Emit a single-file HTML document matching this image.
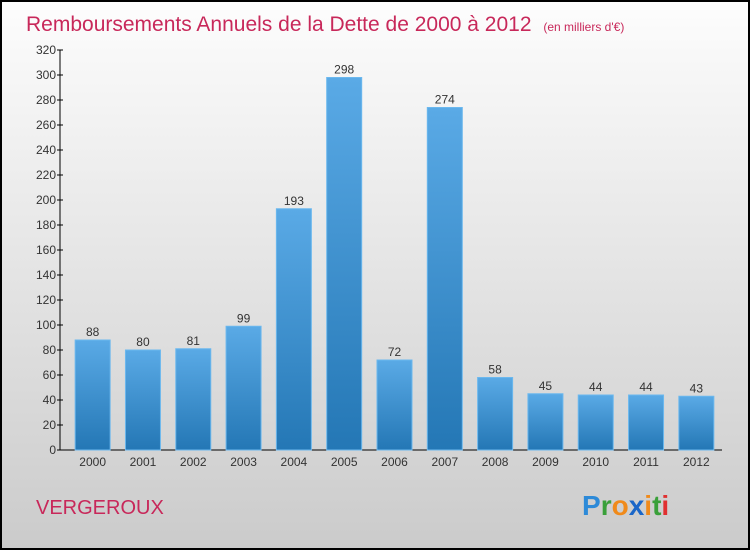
<!DOCTYPE html>
<html><head><meta charset="utf-8"><style>
html,body{margin:0;padding:0}
body{width:750px;height:550px;overflow:hidden;font-family:"Liberation Sans",sans-serif}
</style></head><body>
<svg width="750" height="550" xmlns="http://www.w3.org/2000/svg">
<defs>
<linearGradient id="bg" x1="0" y1="0" x2="0" y2="1"><stop offset="0" stop-color="#fdfdfd"/><stop offset="1" stop-color="#cbcbcb"/></linearGradient>
<linearGradient id="bar" x1="0" y1="0" x2="0" y2="1"><stop offset="0" stop-color="#5aaae6"/><stop offset="1" stop-color="#2477b5"/></linearGradient>
</defs>
<rect x="1" y="1" width="748" height="548" fill="url(#bg)" stroke="#000" stroke-width="2"/>
<text x="26" y="31" font-size="21" fill="#c8285a">Remboursements Annuels de la Dette de 2000 à 2012 <tspan font-size="12" dx="6">(en milliers d'€)</tspan></text>
<g id="axes"></g>
<g id="bars"></g>
<text x="36" y="514" font-size="20" fill="#c8285a">VERGEROUX</text>
<text x="582" y="515" font-size="28" font-weight="bold"><tspan fill="#2d8ad8">P</tspan><tspan fill="#3aa03a">r</tspan><tspan fill="#f08a1a">o</tspan><tspan fill="#1a66c8">x</tspan><tspan fill="#f08a1a">i</tspan><tspan fill="#3aa03a">t</tspan><tspan fill="#e03030">i</tspan></text>
</svg>
<script>
const categories=["2000","2001","2002","2003","2004","2005","2006","2007","2008","2009","2010","2011","2012"];
const values=[88,80,81,99,193,298,72,274,58,45,44,44,43];
const yTicks=[0,20,40,60,80,100,120,140,160,180,200,220,240,260,280,300,320];
const NS="http://www.w3.org/2000/svg";
const y0=450,yTop=50,yMax=320,x0=60,x1=722;
const y=v=>y0-(v/yMax)*(y0-yTop);
const step=(x1-x0-8)/categories.length;
const xc=i=>x0+8+step*(i+0.5)-0.5;
function mk(t,a,p){const e=document.createElementNS(NS,t);for(const k in a)e.setAttribute(k,a[k]);p.appendChild(e);return e;}
const ax=document.getElementById('axes'),bg=document.getElementById('bars');
let l=mk('line',{x1:x0,y1:yTop,x2:x0,y2:y0,stroke:'#000'},ax);


l=mk('line',{x1:x0,y1:y0,x2:x1,y2:y0,stroke:'#000'},ax);


yTicks.forEach(v=>{
 const t=mk('line',{x1:x0-3,y1:y(v),x2:x0+3,y2:y(v),stroke:'#000'},ax);
 
 
 const tx=mk('text',{x:x0-4,y:y(v)+4,'font-size':12,'text-anchor':'end',fill:'#333'},ax);
 tx.textContent=v;
 
 
});
categories.forEach((c,i)=>{
 const w=35,cx=xc(i);
 const r=mk('rect',{x:cx-w/2,y:y(values[i]),width:w,height:y0-y(values[i]),fill:'url(#bar)',stroke:'#6bb8ee','stroke-width':1},bg);
 
 
 const v=mk('text',{x:cx,y:y(values[i])-4,'font-size':12,'text-anchor':'middle',fill:'#333'},bg);
 v.textContent=values[i];
 
 
 const xl=mk('text',{x:cx,y:466,'font-size':12,'text-anchor':'middle',fill:'#333'},bg);
 xl.textContent=c;
 
 
});
</script>
</body></html>
